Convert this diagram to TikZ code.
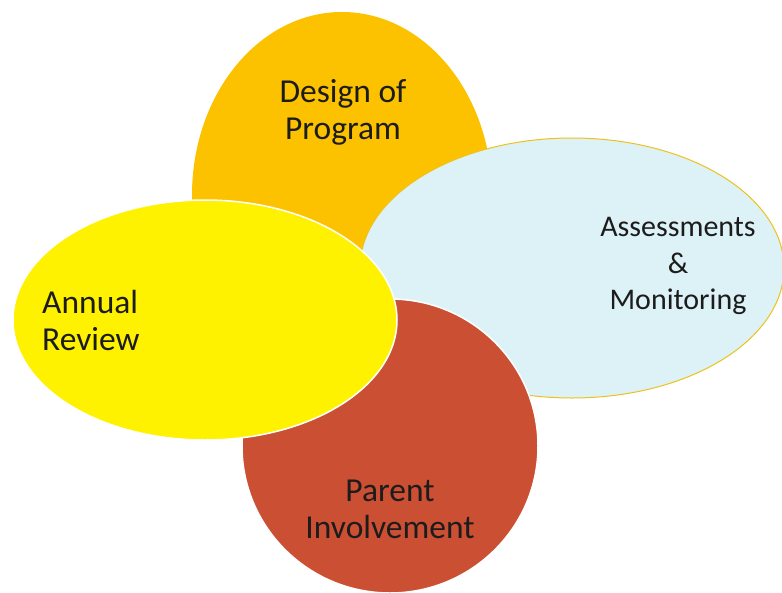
\documentclass[tikz,border=0pt]{standalone}
\usepackage{fontspec}
\setmainfont{Carlito}
\usetikzlibrary{shapes.geometric}
\definecolor{cOrange}{HTML}{FCC200}
\definecolor{cCyan}{HTML}{DCF2F7}
\definecolor{cCyanEdge}{HTML}{EEC21A}
\definecolor{cRed}{HTML}{CB4F33}
\definecolor{cYellow}{HTML}{FFF200}
\definecolor{cText}{HTML}{1C1C1C}
\tikzset{
  blob/.style={ellipse, inner sep=0pt},
  lbl/.style={font=\fontsize{33.5}{37}\selectfont, text=cText, align=center, inner sep=0pt},
  lblsmall/.style={lbl, font=\fontsize{30}{36.5}\selectfont}
}
\begin{document}
\begin{tikzpicture}[x=1pt,y=-1pt]
\useasboundingbox (0,0) rectangle (782,592);
\node[blob, fill=cOrange, minimum width=300pt, minimum height=366pt] (design) at (342,195) {};
\node[blob, fill=cCyan, draw=cCyanEdge, line width=1pt, minimum width=424pt, minimum height=260pt] (assess) at (572,268) {};
\node[blob, fill=cRed, draw=white, line width=1.5pt, minimum width=296pt, minimum height=294pt] (parent) at (390,446) {};
\node[blob, fill=cYellow, draw=white, line width=1.5pt, minimum width=384pt, minimum height=240pt] (annual) at (205,320) {};
\node[lbl] (tdesign) at (343,112) {Design of\\Program};
\node[lblsmall] (tassess) at (678,266) {Assessments\\\&\\Monitoring};
\node[lbl, align=left, anchor=west] (tannual) at (42,320) {Annual\\Review};
\node[lbl] (tparent) at (390,509) {Parent\\Involvement};
\end{tikzpicture}
\end{document}
